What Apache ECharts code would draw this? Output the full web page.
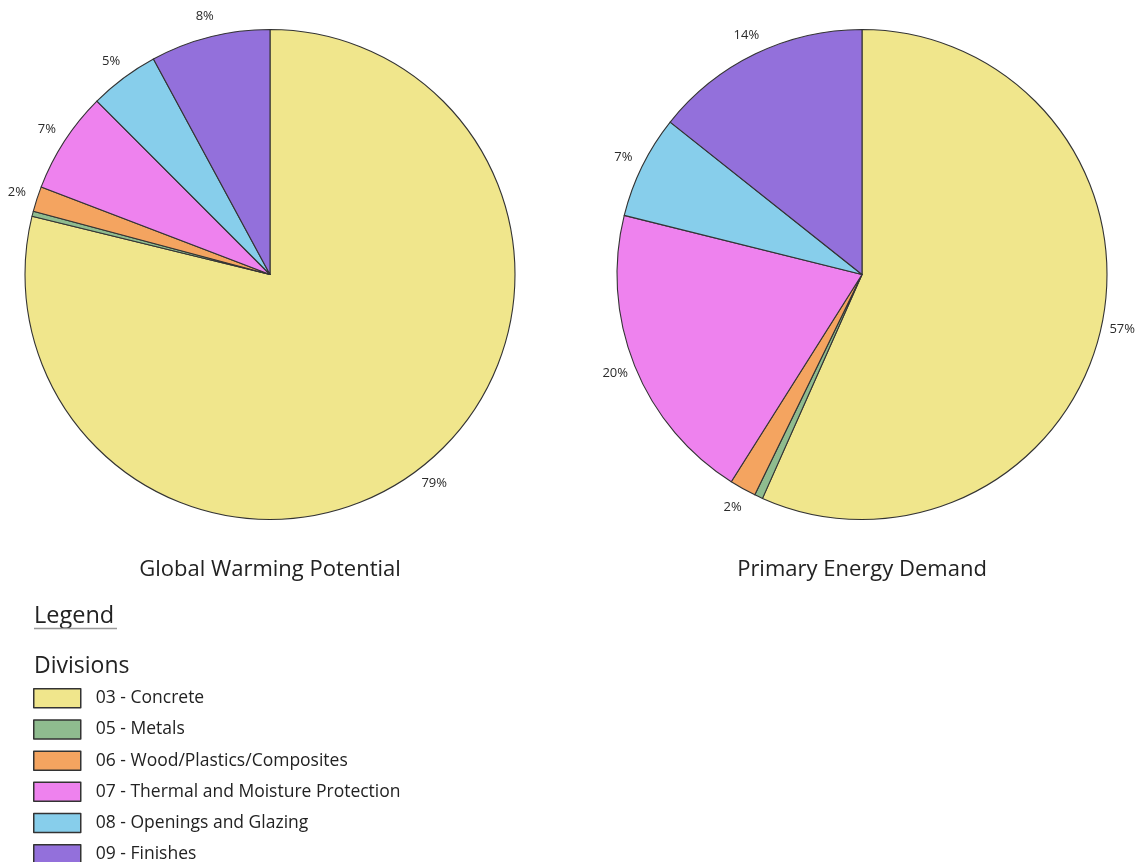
<!DOCTYPE html>
<html>
<head>
<meta charset="utf-8">
<title>Divisions – GWP and PED</title>
<script src="https://cdn.jsdelivr.net/npm/echarts@6/dist/echarts.min.js"></script>
<style>
  html, body { margin: 0; padding: 0; background: #fff; }
  #chart { width: 1142px; height: 862px; }
</style>
</head>
<body>
<div id="chart"></div>
<script>
// Divisions shown in both pies, in drawing order (clockwise from 12 o'clock)
const divisions = [
  '03 - Concrete',
  '05 - Metals',
  '06 - Wood/Plastics/Composites',
  '07 - Thermal and Moisture Protection',
  '08 - Openings and Glazing',
  '09 - Finishes'
];
const divisionColors = ['#F0E68C', '#8FBC8F', '#F4A460', '#EE82EE', '#87CEEB', '#9370DB'];

// Share of each division (%)
const gwpValues = [78.9, 0.33, 1.67, 6.7, 4.6, 7.9];
const pedValues = [56.6, 0.55, 1.75, 19.9, 6.8, 14.3];

const chartTitles = ['Global Warming Potential', 'Primary Energy Demand'];
const legendTitle = 'Legend';
const legendSubtitle = 'Divisions';

const FONT = '"Open Sans", "Noto Sans", sans-serif';
const TEXT_COLOR = '#222';
const PIE_R = 245;
const LABEL_BAND = 36;   // labels sit in the middle of a transparent ring outside the pie
const pieCenters = [[270, 274.5], [862, 274.5]];

function sum(arr) { return arr.reduce((a, b) => a + b, 0); }

function pieData(values) {
  return divisions.map((name, i) => ({
    name,
    value: values[i],
    itemStyle: { color: divisionColors[i] }
  }));
}

// slices under one percent carry no label
function labelData(values) {
  const total = sum(values);
  return divisions.map((name, i) => ({
    name,
    value: values[i],
    label: { show: values[i] / total >= 0.01 }
  }));
}

function pieSeries(values, center) {
  return {
    type: 'pie',
    center,
    radius: PIE_R,
    startAngle: 90,
    clockwise: true,
    avoidLabelOverlap: false,
    label: { show: false },
    labelLine: { show: false },
    itemStyle: { borderColor: '#333', borderWidth: 1.1 },
    emphasis: { disabled: true },
    animation: false,
    data: pieData(values)
  };
}

function labelRingSeries(values, center) {
  const total = sum(values);
  return {
    type: 'pie',
    center,
    radius: [PIE_R, PIE_R + LABEL_BAND],
    startAngle: 90,
    clockwise: true,
    silent: true,
    avoidLabelOverlap: false,
    itemStyle: { color: 'rgba(0,0,0,0)', borderWidth: 0 },
    label: {
      show: true,
      position: 'inside',
      fontFamily: FONT,
      fontSize: 13,
      color: '#2a2a2a',
      formatter: p => Math.round(p.value / total * 100) + '%'
    },
    labelLine: { show: false },
    emphasis: { disabled: true },
    animation: false,
    data: labelData(values)
  };
}

const chart = echarts.init(document.getElementById('chart'), null, { renderer: 'canvas' });

chart.setOption({
  backgroundColor: '#fff',
  animation: false,
  legend: {
    orient: 'vertical',
    left: 33,
    top: 688,
    height: 200,
    padding: 0,
    itemWidth: 47,
    itemHeight: 19,
    itemGap: 10.7,
    icon: 'rect',
    selectedMode: false,
    data: divisions,
    itemStyle: { borderColor: '#333', borderWidth: 1.5 },
    textStyle: {
      fontFamily: FONT,
      fontSize: 17.5,
      color: TEXT_COLOR,
      padding: [0, 0, 0, 10]
    }
  },
  graphic: [
    {
      type: 'text', x: pieCenters[0][0], y: 570,
      style: { text: chartTitles[0], font: '22px ' + FONT, fill: TEXT_COLOR, textAlign: 'center', textVerticalAlign: 'middle' }
    },
    {
      type: 'text', x: pieCenters[1][0], y: 570,
      style: { text: chartTitles[1], font: '22px ' + FONT, fill: TEXT_COLOR, textAlign: 'center', textVerticalAlign: 'middle' }
    },
    {
      type: 'text', x: 34, y: 616,
      style: { text: legendTitle, font: '23.5px ' + FONT, fill: TEXT_COLOR, textAlign: 'left', textVerticalAlign: 'middle' }
    },
    {
      type: 'line', shape: { x1: 34, y1: 628.5, x2: 117, y2: 628.5 },
      style: { stroke: '#999', lineWidth: 1.5 }
    },
    {
      type: 'text', x: 34, y: 666,
      style: { text: legendSubtitle, font: '23px ' + FONT, fill: TEXT_COLOR, textAlign: 'left', textVerticalAlign: 'middle' }
    }
  ],
  series: [
    pieSeries(gwpValues, pieCenters[0]),
    pieSeries(pedValues, pieCenters[1]),
    labelRingSeries(gwpValues, pieCenters[0]),
    labelRingSeries(pedValues, pieCenters[1])
  ]
});
</script>
</body>
</html>
